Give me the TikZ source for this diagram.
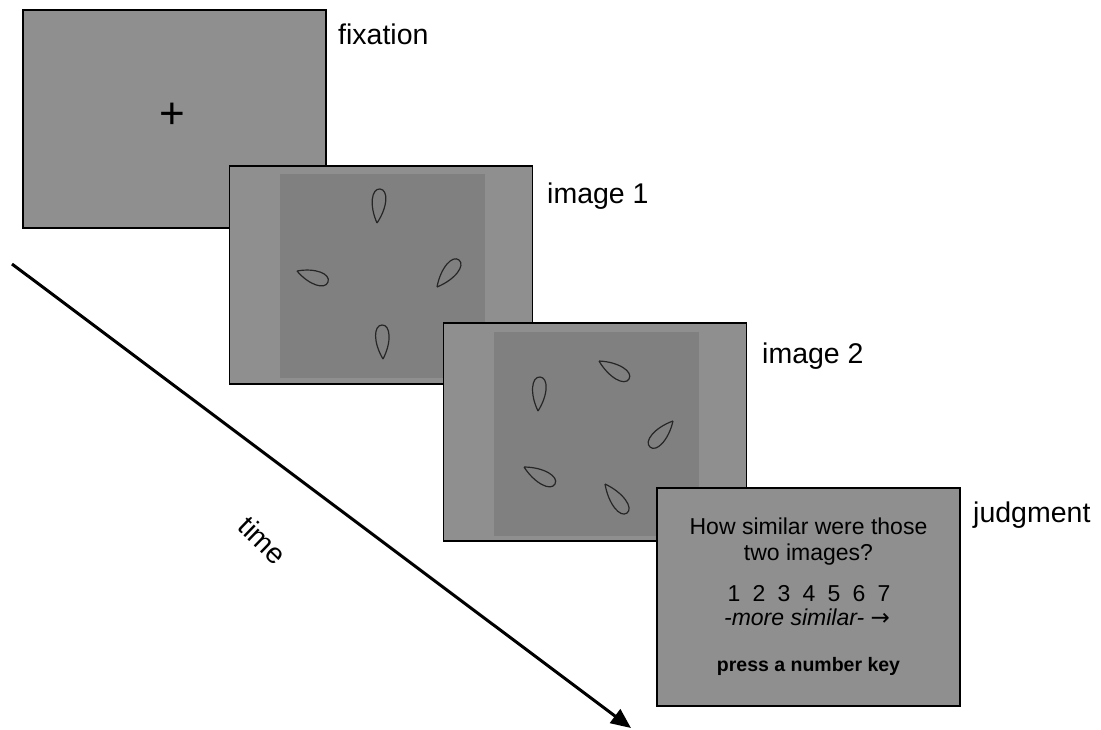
\documentclass[tikz,border=0pt]{standalone}
\usepackage{fontspec}
\setmainfont{Liberation Sans}
\newfontfamily\dejavu{DejaVu Sans}
\usetikzlibrary{arrows.meta,calc}
\definecolor{panelgray}{RGB}{143,143,143}
\definecolor{innergray}{RGB}{128,128,128}
\newcommand\petal[2]{\draw[petalline] (#1) .. controls ($(#1)!0.5!(#2)!9.5pt!90:(#2)$) and ($(#2)!8.5pt!-90:(#1)$) .. (#2) .. controls ($(#2)!8.5pt!90:(#1)$) and ($(#1)!0.5!(#2)!9.5pt!-90:(#2)$) .. (#1);}
\begin{document}
\begin{tikzpicture}[x=1pt,y=-1pt,
  panel/.style={draw=black,line width=1.5pt,fill=panelgray,minimum width=303pt,minimum height=218pt,inner sep=0pt},
  innerbox/.style={fill=innergray,minimum width=205pt,minimum height=204pt,inner sep=0pt},
  tlabel/.style={font=\fontsize{28.5}{34}\selectfont,anchor=base west,inner sep=0pt},
  petalline/.style={draw=black!85,line width=1.2pt},
  jtext/.style={anchor=base,inner sep=0pt,font=\fontsize{23}{27}\selectfont}]
\useasboundingbox (0,0) rectangle (1101,729);
\fill[white] (0,0) rectangle (1101,729);

% fixation
\node[panel] (fix) at (174.5,119) {};
\node[anchor=base,inner sep=0pt,font=\fontsize{44}{44}\selectfont] (plus) at (172.5,128.5) {+};
\node[tlabel] (lfix) at (338,44) {fixation};

% image 1
\node[panel] (im1) at (381,275) {};
\node[innerbox] (im1in) at (382.5,275.5) {};
\petal{377,223}{380,189}
\petal{297,271}{328,282}
\petal{437,287}{459,260}
\petal{383,359}{382,325}
\node[tlabel] (lim1) at (547,203) {image 1};

% image 2
\node[panel] (im2) at (595,432) {};
\node[innerbox] (im2in) at (596.5,433.5) {};
\petal{599,361}{629,379}
\petal{538,411}{540,377}
\petal{673,421}{650,447}
\petal{524,467}{555,484}
\petal{605,484}{627,513}
\node[tlabel] (lim2) at (762,363) {image 2};

% judgment
\node[panel] (jud) at (808.5,597) {};
\node[jtext] (q1) at (808.5,534) {How similar were those};
\node[jtext] (q2) at (808.5,560) {two images?};
\node[jtext] (scale) at (809,601) {1\hspace{.53em}2\hspace{.53em}3\hspace{.53em}4\hspace{.53em}5\hspace{.53em}6\hspace{.53em}7};
\node[jtext,font=\fontsize{23}{27}\selectfont\itshape] (more) at (807,625) {-more similar- {\upshape\dejavu →}};
\node[jtext,font=\fontsize{19.5}{23}\selectfont\bfseries] (press) at (808.5,671) {press a number key};
\node[tlabel] (ljud) at (973,522) {judgment};

% time arrow
\coordinate (tstart) at (12,264);
\coordinate (tend) at (631,728);
\draw[line width=3pt,-{Triangle[length=20pt,width=17pt]}] (tstart) -- (tend);
\node[rotate=-44,inner sep=0pt,font=\fontsize{28.5}{34}\selectfont] (tlbl) at (263,540) {time};
\end{tikzpicture}
\end{document}
